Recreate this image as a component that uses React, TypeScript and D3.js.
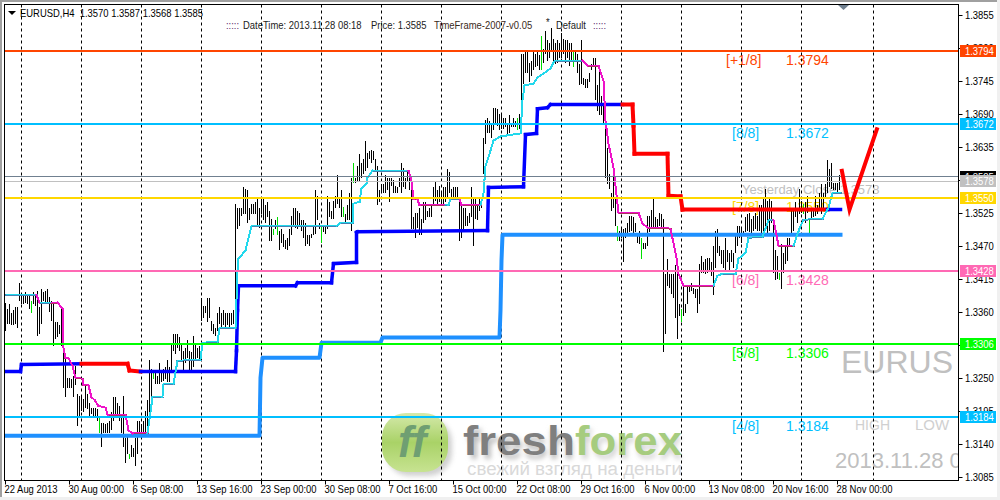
import React from "react";
import * as d3 from "d3";

// Bar highs and lows (EURUSD H4), ten bars per row
const barHigh = [
1.3375,1.3365,1.3373,1.3358,1.3362,1.3367,1.3367,1.3407,1.3390,1.3390,
1.3392,1.3390,1.3390,1.3377,1.3392,1.3388,1.3395,1.3368,1.3397,1.3392,
1.3395,1.3398,1.3385,1.3378,1.3375,1.3342,1.3342,1.3337,1.3365,1.3303,
1.3283,1.3250,1.3250,1.3248,1.3253,1.3270,1.3223,1.3220,1.3220,1.3215,
1.3240,1.3223,1.3208,1.3200,1.3200,1.3200,1.3198,1.3182,1.3175,1.3175,
1.3173,1.3175,1.3178,1.3192,1.3217,1.3217,1.3207,1.3202,1.3190,1.3220,
1.3150,1.3153,1.3123,1.3137,1.3133,1.3150,1.3178,1.3178,1.3173,1.3178,
1.3195,1.3212,1.3280,1.3265,1.3257,1.3262,1.3253,1.3275,1.3257,1.3265,
1.3267,1.3280,1.3267,1.3307,1.3323,1.3323,1.3323,1.3317,1.3307,1.3295,
1.3300,1.3312,1.3295,1.3292,1.3320,1.3307,1.3300,1.3303,1.3382,1.3370,
1.3370,1.3383,1.3383,1.3345,1.3340,1.3333,1.3357,1.3368,1.3357,1.3362,
1.3358,1.3358,1.3357,1.3358,1.3362,1.3540,1.3533,1.3532,1.3532,1.3567,
1.3565,1.3562,1.3533,1.3540,1.3540,1.3542,1.3548,1.3533,1.3550,1.3548,
1.3537,1.3542,1.3528,1.3515,1.3497,1.3513,1.3517,1.3495,1.3498,1.3490,
1.3480,1.3482,1.3497,1.3520,1.3533,1.3533,1.3528,1.3525,1.3512,1.3512,
1.3508,1.3487,1.3487,1.3490,1.3503,1.3563,1.3552,1.3507,1.3503,1.3503,
1.3503,1.3552,1.3542,1.3528,1.3545,1.3552,1.3587,1.3548,1.3562,1.3535,
1.3523,1.3537,1.3557,1.3583,1.3607,1.3583,1.3603,1.3623,1.3607,1.3615,
1.3645,1.3625,1.3628,1.3630,1.3628,1.3615,1.3603,1.3562,1.3573,1.3573,
1.3587,1.3583,1.3582,1.3583,1.3580,1.3570,1.3567,1.3583,1.3607,1.3600,
1.3582,1.3592,1.3595,1.3573,1.3517,1.3525,1.3525,1.3533,1.3515,1.3542,
1.3542,1.3528,1.3533,1.3540,1.3567,1.3578,1.3562,1.3570,1.3557,1.3567,
1.3567,1.3597,1.3592,1.3565,1.3567,1.3567,1.3567,1.3548,1.3537,1.3532,
1.3533,1.3520,1.3525,1.3567,1.3550,1.3548,1.3537,1.3550,1.3545,1.3650,
1.3680,1.3682,1.3678,1.3675,1.3700,1.3700,1.3698,1.3690,1.3687,1.3682,
1.3683,1.3675,1.3687,1.3675,1.3683,1.3678,1.3682,1.3690,1.3790,1.3790,
1.3792,1.3792,1.3775,1.3778,1.3792,1.3790,1.3792,1.3787,1.3820,1.3798,
1.3828,1.3812,1.3807,1.3832,1.3815,1.3807,1.3812,1.3808,1.3825,1.3815,
1.3812,1.3812,1.3808,1.3808,1.3792,1.3792,1.3790,1.3773,1.3812,1.3750,
1.3748,1.3748,1.3758,1.3773,1.3783,1.3783,1.3737,1.3770,1.3720,1.3707,
1.3678,1.3633,1.3590,1.3558,1.3603,1.3550,1.3503,1.3495,1.3500,1.3498,
1.3500,1.3507,1.3520,1.3520,1.3517,1.3508,1.3490,1.3495,1.3482,1.3475,
1.3475,1.3520,1.3520,1.3530,1.3547,1.3517,1.3515,1.3525,1.3523,1.3515,
1.3423,1.3448,1.3423,1.3423,1.3423,1.3437,1.3437,1.3373,1.3365,1.3407,
1.3373,1.3403,1.3403,1.3408,1.3400,1.3398,1.3398,1.3440,1.3453,1.3442,
1.3448,1.3450,1.3450,1.3442,1.3470,1.3495,1.3498,1.3470,1.3462,1.3462,
1.3483,1.3462,1.3458,1.3462,1.3458,1.3487,1.3503,1.3503,1.3498,1.3495,
1.3517,1.3523,1.3525,1.3515,1.3520,1.3525,1.3520,1.3537,1.3537,1.3548,
1.3565,1.3545,1.3548,1.3545,1.3515,1.3462,1.3453,1.3425,1.3473,1.3457,
1.3470,1.3483,1.3483,1.3532,1.3533,1.3542,1.3528,1.3565,1.3545,1.3540,
1.3542,1.3553,1.3512,1.3533,1.3532,1.3553,1.3537,1.3558,1.3573,1.3557,
1.3573,1.3612,1.3598,1.3607,1.3575,1.3575,1.3575,1.3587];
const barLow = [
1.3327,1.3340,1.3340,1.3338,1.3337,1.3340,1.3332,1.3378,1.3373,1.3373,
1.3375,1.3372,1.3365,1.3358,1.3372,1.3370,1.3320,1.3323,1.3340,1.3378,
1.3375,1.3375,1.3360,1.3345,1.3303,1.3315,1.3318,1.3323,1.3303,1.3232,
1.3217,1.3232,1.3233,1.3232,1.3217,1.3237,1.3170,1.3183,1.3195,1.3192,
1.3200,1.3198,1.3182,1.3190,1.3183,1.3183,1.3178,1.3157,1.3135,1.3157,
1.3157,1.3158,1.3157,1.3162,1.3178,1.3190,1.3190,1.3178,1.3158,1.3135,
1.3108,1.3123,1.3115,1.3117,1.3117,1.3102,1.3123,1.3158,1.3150,1.3158,
1.3158,1.3158,1.3170,1.3220,1.3248,1.3240,1.3240,1.3240,1.3242,1.3245,
1.3248,1.3242,1.3242,1.3263,1.3295,1.3290,1.3300,1.3295,1.3278,1.3258,
1.3275,1.3282,1.3262,1.3262,1.3267,1.3278,1.3283,1.3278,1.3345,1.3350,
1.3358,1.3342,1.3350,1.3328,1.3323,1.3320,1.3328,1.3340,1.3333,1.3337,
1.3333,1.3337,1.3333,1.3337,1.3340,1.3378,1.3498,1.3503,1.3520,1.3523,
1.3523,1.3508,1.3512,1.3523,1.3523,1.3523,1.3503,1.3500,1.3523,1.3512,
1.3508,1.3517,1.3478,1.3478,1.3487,1.3498,1.3487,1.3463,1.3475,1.3467,
1.3465,1.3462,1.3470,1.3487,1.3503,1.3500,1.3498,1.3503,1.3495,1.3483,
1.3470,1.3473,1.3470,1.3482,1.3487,1.3490,1.3512,1.3498,1.3475,1.3492,
1.3490,1.3498,1.3517,1.3515,1.3515,1.3532,1.3540,1.3533,1.3517,1.3518,
1.3508,1.3512,1.3512,1.3495,1.3575,1.3575,1.3578,1.3578,1.3583,1.3590,
1.3595,1.3600,1.3615,1.3608,1.3612,1.3595,1.3537,1.3542,1.3557,1.3558,
1.3557,1.3562,1.3542,1.3570,1.3557,1.3557,1.3558,1.3567,1.3558,1.3567,
1.3565,1.3578,1.3562,1.3498,1.3498,1.3483,1.3500,1.3487,1.3487,1.3507,
1.3512,1.3517,1.3517,1.3517,1.3537,1.3545,1.3537,1.3542,1.3537,1.3537,
1.3542,1.3548,1.3557,1.3550,1.3548,1.3550,1.3548,1.3478,1.3483,1.3495,
1.3503,1.3503,1.3508,1.3517,1.3470,1.3515,1.3512,1.3528,1.3532,1.3590,
1.3640,1.3658,1.3657,1.3650,1.3662,1.3673,1.3670,1.3662,1.3665,1.3665,
1.3667,1.3653,1.3658,1.3667,1.3667,1.3667,1.3662,1.3665,1.3673,1.3740,
1.3758,1.3757,1.3742,1.3753,1.3762,1.3767,1.3770,1.3762,1.3762,1.3775,
1.3790,1.3778,1.3783,1.3792,1.3778,1.3773,1.3775,1.3782,1.3783,1.3790,
1.3775,1.3783,1.3770,1.3778,1.3767,1.3778,1.3757,1.3737,1.3740,1.3737,
1.3732,1.3732,1.3742,1.3762,1.3770,1.3712,1.3695,1.3687,1.3687,1.3673,
1.3582,1.3573,1.3565,1.3528,1.3533,1.3503,1.3478,1.3478,1.3482,1.3442,
1.3483,1.3490,1.3492,1.3495,1.3490,1.3492,1.3475,1.3473,1.3447,1.3465,
1.3465,1.3470,1.3492,1.3498,1.3500,1.3498,1.3498,1.3503,1.3500,1.3292,
1.3323,1.3403,1.3400,1.3390,1.3383,1.3350,1.3315,1.3353,1.3342,1.3353,
1.3357,1.3373,1.3392,1.3395,1.3390,1.3383,1.3357,1.3373,1.3425,1.3425,
1.3423,1.3425,1.3428,1.3420,1.3387,1.3432,1.3457,1.3453,1.3440,1.3432,
1.3428,1.3442,1.3428,1.3442,1.3433,1.3458,1.3470,1.3482,1.3475,1.3487,
1.3492,1.3495,1.3492,1.3490,1.3495,1.3498,1.3495,1.3495,1.3490,1.3492,
1.3503,1.3487,1.3495,1.3507,1.3425,1.3412,1.3415,1.3412,1.3398,1.3425,
1.3440,1.3445,1.3470,1.3487,1.3495,1.3517,1.3507,1.3523,1.3525,1.3523,
1.3507,1.3525,1.3490,1.3515,1.3517,1.3520,1.3523,1.3533,1.3523,1.3532,
1.3550,1.3557,1.3567,1.3565,1.3562,1.3562,1.3558,1.3562];
const greenBars = [13,47,62,74,134,136,158,169,174,256,268,284,306,318,338,387,399,402];

// Fast stepped line: vertices (bar number, price) and its falling stretches
const fastBar = [0,15.5,17,22.5,26,28.5,29,30,31.5,33.5,35,38.5,39,41.5,43,44.5,46.5,50,51,60,61.5,63.5,71,73.5,78.5,79,84,86,97.5,98.5,106,107,115,116,116.5,120,121.5,123,165.5,167.5,173.5,174,177,178,180.5,181,183.5,201.5,203,204,206,207,220,221.5,222.5,227,228,237.5,239,240,242,244,247.5,257.5,258.5,259.5,264,266,272.5,274.5,288.5,291,296.5,299,300,301.5,304,306.5,316.5,318.5,321,329.5,332.5,335.5,336.5,339,354,356,358.5,365,366.5,370,371.5,378.5,381.5,384,386.5,394,397.5,399,408.5,411.5,413.5,417.5];
const fastPrice = [1.3388,1.3388,1.3375,1.3375,1.3375,1.3365,1.3300,1.3283,1.3282,1.3270,1.3250,1.3248,1.3238,1.3237,1.3217,1.3213,1.3203,1.3200,1.3188,1.3188,1.3162,1.3157,1.3157,1.3217,1.3218,1.3240,1.3240,1.3278,1.3280,1.3308,1.3310,1.3333,1.3333,1.3428,1.3448,1.3462,1.3482,1.3503,1.3503,1.3508,1.3508,1.3540,1.3543,1.3565,1.3573,1.3583,1.3595,1.3595,1.3578,1.3548,1.3547,1.3537,1.3537,1.3538,1.3548,1.3548,1.3537,1.3537,1.3557,1.3603,1.3623,1.3645,1.3652,1.3657,1.3712,1.3737,1.3740,1.3750,1.3765,1.3778,1.3778,1.3770,1.3770,1.3745,1.3678,1.3640,1.3600,1.3525,1.3525,1.3507,1.3500,1.3500,1.3498,1.3450,1.3423,1.3403,1.3403,1.3420,1.3423,1.3423,1.3448,1.3458,1.3483,1.3485,1.3512,1.3513,1.3470,1.3470,1.3503,1.3513,1.3515,1.3533,1.3558,1.3558];
const fastFalling = [[15.5,17],[22.5,71],[201.5,220],[227,237.5],[288.5,354],[384,394]];

// Thick stepped trend line
const trendBar = [0,7.5,8,38,61,62,67.5,115,115.5,116,116.5,145,146,163,164,175.5,175.5,176,241,241.5,259,260,265.5,266,271,272.5,308.5,313.5,314,314.5,331,331.5,337.5,338.5,411,417.5];
const trendPrice = [1.3260,1.3260,1.3272,1.3273,1.3273,1.3262,1.3260,1.3260,1.3295,1.3362,1.3403,1.3403,1.3408,1.3408,1.3440,1.3442,1.3492,1.3493,1.3495,1.3567,1.3568,1.3655,1.3657,1.3698,1.3700,1.3705,1.3705,1.3705,1.3670,1.3623,1.3623,1.3553,1.3552,1.3530,1.3530,1.3530];
const trendRed = [[38,67.5],[308.5,411]];

// Slow stepped line
const slowBar = [0,127,127.5,128.5,157,158,187.5,188.5,247,247.5,248,248.5,417.5];
const slowPrice = [1.3153,1.3153,1.3250,1.3283,1.3283,1.3308,1.3308,1.3317,1.3317,1.3362,1.3445,1.3488,1.3488];

// Forecast zigzag
const zigBar = [418,422,436];
const zigPrice = [1.3598,1.3530,1.3667];

// Murrey levels
const levelNames = ["[+1/8]","[8/8]","[7/8]","[6/8]","[5/8]","[4/8]"];
const levelPrices = [1.3794,1.3672,1.3550,1.3428,1.3306,1.3184];
const levelColors = ["#ff4500","#00bfff","#ffd700","#ff69b4","#00ff00","#00bfff"];

const priceTicks = [1.3855,1.38,1.3745,1.369,1.3635,1.358,1.3525,1.347,1.3415,1.336,1.3305,1.325,1.3195,1.314,1.3085];
const timeLabels = ["22 Aug 2013","30 Aug 00:00","6 Sep 08:00","13 Sep 16:00","23 Sep 00:00","30 Sep 08:00","7 Oct 16:00","15 Oct 00:00","22 Oct 08:00","29 Oct 16:00","6 Nov 00:00","13 Nov 08:00","20 Nov 16:00","28 Nov 00:00"];
const timeLabelEvery = 32;
const gridBars = [8,38,68,98,128,158,188,218,248,278,308,338,368,398,434];

const UI = "'Liberation Sans', Arial, sans-serif";
const left = 4.5, right = 958.5, top = 4.5, bottom = 480.5;

const x = d3.scaleLinear().domain([0, 417]).range([5.5, 839.5]);
const y = d3.scaleLinear().domain([1.3085, 1.3855]).range([476.6, 14.6]);
const px = (v: number) => Math.round(y(v));
const fmt = d3.format(".4f");

type Run = { color: string; flat: boolean; d: string };
function path(bars: number[], prices: number[]) {
  return d3.line<number>().x((b) => x(b)).y((_, i) => y(prices[i]))(bars) as string;
}
function runs(bars: number[], prices: number[], spans: number[][], base: string, alt: string): Run[] {
  const out: Run[] = [];
  for (let i = 0; i < bars.length - 1; i++) {
    const mid = (bars[i] + bars[i + 1]) / 2;
    const isAlt = spans.some(([a, b]) => mid >= a && mid <= b);
    out.push({
      color: isAlt ? alt : base,
      flat: Math.abs(prices[i] - prices[i + 1]) < 0.00025,
      d: path(bars.slice(i, i + 2), prices.slice(i, i + 2)),
    });
  }
  return out;
}

const tagPrices = [...levelPrices.map((p, i) => ({ p, c: levelColors[i] })), { p: 1.3585, c: "#000000" }, { p: 1.3578, c: "#c0c0c0" }];

// Small UI text: taller than it is wide, as the terminal's own face is
function Ui({ tx, ty, fill = "#000", children }: { tx: number; ty: number; fill?: string; children: React.ReactNode }) {
  return (
    <text transform={`translate(${tx},${ty}) scale(0.9,1)`} fontSize={10.5} fill={fill} xmlSpace="preserve">{children}</text>
  );
}

export default function App() {
  return (
    <svg width={1000} height={500} style={{ position: "absolute", left: 0, top: 0, background: "#fff" }} fontFamily={UI}>
      <defs>
        <clipPath id="plot"><rect x={left} y={top} width={right - left} height={bottom - top} /></clipPath>
        <filter id="blur" x="-20%" y="-20%" width="140%" height="140%"><feGaussianBlur stdDeviation="2.5" /></filter>
        <linearGradient id="logo" x1="0" y1="0" x2="0" y2="1">
          <stop offset="0" stopColor="#d5e9ab" />
          <stop offset="0.5" stopColor="#a9d267" />
          <stop offset="1" stopColor="#c7e391" />
        </linearGradient>
      </defs>
      {/* window chrome */}
      <rect x={0} y={0} width={1000} height={2} fill="#a0a0a0" />
      <rect x={0} y={0} width={2} height={500} fill="#a0a0a0" />
      <rect x={0} y={497} width={1000} height={3} fill="#f0f0f0" />
      <rect x={997} y={0} width={3} height={500} fill="#f0f0f0" />

      <g clipPath="url(#plot)">
        {/* watermark */}
        <rect x={386} y={418} width={66} height={58} rx={24} fill="#999" opacity={0.45} filter="url(#blur)" />
        <rect x={382} y={413} width={66} height={59} rx={24} fill="url(#logo)" />
        <text x={398} y={457} fontSize={44} fontWeight="bold" fontStyle="italic" fill="#6f9f72">ff</text>
        <g fontWeight="bold" fontSize={40}>
          <text x={467} y={459} textLength={108} lengthAdjust="spacingAndGlyphs" fill="#bdbdbd" filter="url(#blur)">fresh</text>
          <text x={578} y={459} textLength={105} lengthAdjust="spacingAndGlyphs" fill="#d4d4d4" filter="url(#blur)">forex</text>
          <text x={463} y={455} textLength={112} lengthAdjust="spacingAndGlyphs" fill="#7f7f7f">fresh</text>
          <text x={575} y={455} textLength={107} lengthAdjust="spacingAndGlyphs" fill="#a6cc7f">forex</text>
        </g>
        <text x={467} y={475} fontSize={18} textLength={215} lengthAdjust="spacingAndGlyphs" fill="#d9d9d9">свежий взгляд на деньги</text>

        {/* background texts */}
        <text x={841} y={373} fontSize={32} fill="#c0c0c0">EURUS</text>
        <text x={855} y={430} fontSize={14} fill="#d0d0d0">HIGH</text>
        <text x={915} y={430} fontSize={15} fill="#d0d0d0">LOW</text>
        <text x={835} y={468} fontSize={22} fill="#c0c0c0">2013.11.28 08:18</text>
        <text x={742} y={194} fontSize={13} fill="#c0c0c0">Yesterday Close 1.3578</text>
        {levelNames.map((name, i) => (
          <g key={name} fontSize={14} fill={levelColors[i]}>
            <text x={i === 0 ? 726 : 732} y={px(levelPrices[i]) + 14}>{name}</text>
            <text x={786} y={px(levelPrices[i]) + 14}>{fmt(levelPrices[i])}</text>
          </g>
        ))}

        {/* period separators */}
        {gridBars.map((b) => (
          <line key={b} x1={Math.floor(x(b)) + 0.5} x2={Math.floor(x(b)) + 0.5} y1={top} y2={bottom} stroke="#000" strokeDasharray="3,3" />
        ))}

        {/* bars */}
        <g shapeRendering="crispEdges">
          {barHigh.map((h, i) => (
            <line key={i} x1={x(i)} x2={x(i)} y1={px(h)} y2={px(barLow[i])} stroke={greenBars.includes(i) ? "#00e000" : "#000"} />
          ))}
        </g>

        {/* stepped lines */}
        <g fill="none" strokeLinejoin="round" strokeLinecap="square">
          <path d={path(slowBar, slowPrice)} stroke="#1e90ff" strokeWidth={4} />
          {runs(trendBar, trendPrice, trendRed, "#0000ff", "#ff0000").map((r, i) => (
            <path key={i} d={r.d} stroke={r.color} strokeWidth={r.color === "#ff0000" ? 4 : 3.5} />
          ))}
          <g shapeRendering="crispEdges">
            {runs(fastBar, fastPrice, fastFalling, "#4682b4", "#b03060").filter((r) => r.flat).map((r, i) => (
              <path key={i} d={r.d} stroke={r.color} strokeWidth={2} />
            ))}
            {runs(fastBar, fastPrice, fastFalling, "#22d8ec", "#ee12c8").map((r, i) => (
              r.flat
                ? <path key={i} d={r.d} stroke={r.color} strokeWidth={1} transform="translate(0,-0.5)" strokeLinecap="butt" />
                : <path key={i} d={r.d} stroke={r.color} strokeWidth={2} />
            ))}
          </g>
        </g>

        {/* level lines */}
        <g shapeRendering="crispEdges">
          {levelPrices.map((p, i) => (
            <line key={p} x1={left} x2={right} y1={px(p)} y2={px(p)} stroke={levelColors[i]} strokeWidth={2} />
          ))}
          <line x1={left} x2={right} y1={Math.floor(y(1.3585)) + 0.5} y2={Math.floor(y(1.3585)) + 0.5} stroke="#708090" />
          <line x1={left} x2={right} y1={Math.ceil(y(1.3578)) + 0.5} y2={Math.ceil(y(1.3578)) + 0.5} stroke="#c0c0c0" />
        </g>

        {/* forecast */}
        <path d={path(zigBar, zigPrice)} fill="none" stroke="#ff0000" strokeWidth={4} strokeLinejoin="miter" />
        <path d="M838,5 L849,5 L843.5,10 Z" fill="#708090" />
      </g>

      {/* frame */}
      <rect x={left} y={top} width={right - left} height={bottom - top} fill="none" stroke="#000" />

      {/* header */}
      <path d="M8,11 L16,11 L12,15 Z" fill="#000" />
      <Ui tx={20} ty={17}>EURUSD,H4  1.3570 1.3587 1.3568 1.3585</Ui>
      <Ui tx={226} ty={29} fill="#5a2a6a">:::::</Ui>
      <Ui tx={243} ty={29} fill="#222">DateTime: 2013.11.28 08:18</Ui>
      <Ui tx={371} ty={29} fill="#222">Price: 1.3585</Ui>
      <Ui tx={434} ty={29} fill="#3a2a1a">TimeFrame-2007-v0.05</Ui>
      <Ui tx={546} ty={26} fill="#222">*</Ui>
      <Ui tx={556} ty={29} fill="#222">Default</Ui>
      <Ui tx={593} ty={29} fill="#5a2a6a">:::::</Ui>

      {/* price axis */}
      {priceTicks.map((p) => (
        <g key={p}>
          <line x1={right} x2={right + 4} y1={px(p) + 0.5} y2={px(p) + 0.5} stroke="#000" />
          <Ui tx={965} ty={px(p) + 4}>{fmt(p)}</Ui>
        </g>
      ))}
      {tagPrices.map((t) => (
        <g key={t.p}>
          <rect x={960} y={px(t.p) - 6} width={36} height={12} fill={t.c} />
          <Ui tx={965} ty={px(t.p) + 4} fill="#fff">{fmt(t.p)}</Ui>
        </g>
      ))}

      {/* time axis */}
      {timeLabels.map((label, i) => {
        const tx = Math.floor(x(i * timeLabelEvery)) + 0.5;
        return (
          <g key={label}>
            <line x1={tx} x2={tx} y1={bottom} y2={bottom + 4} stroke="#000" />
            <Ui tx={tx - 1} ty={493}>{label}</Ui>
          </g>
        );
      })}
    </svg>
  );
}
